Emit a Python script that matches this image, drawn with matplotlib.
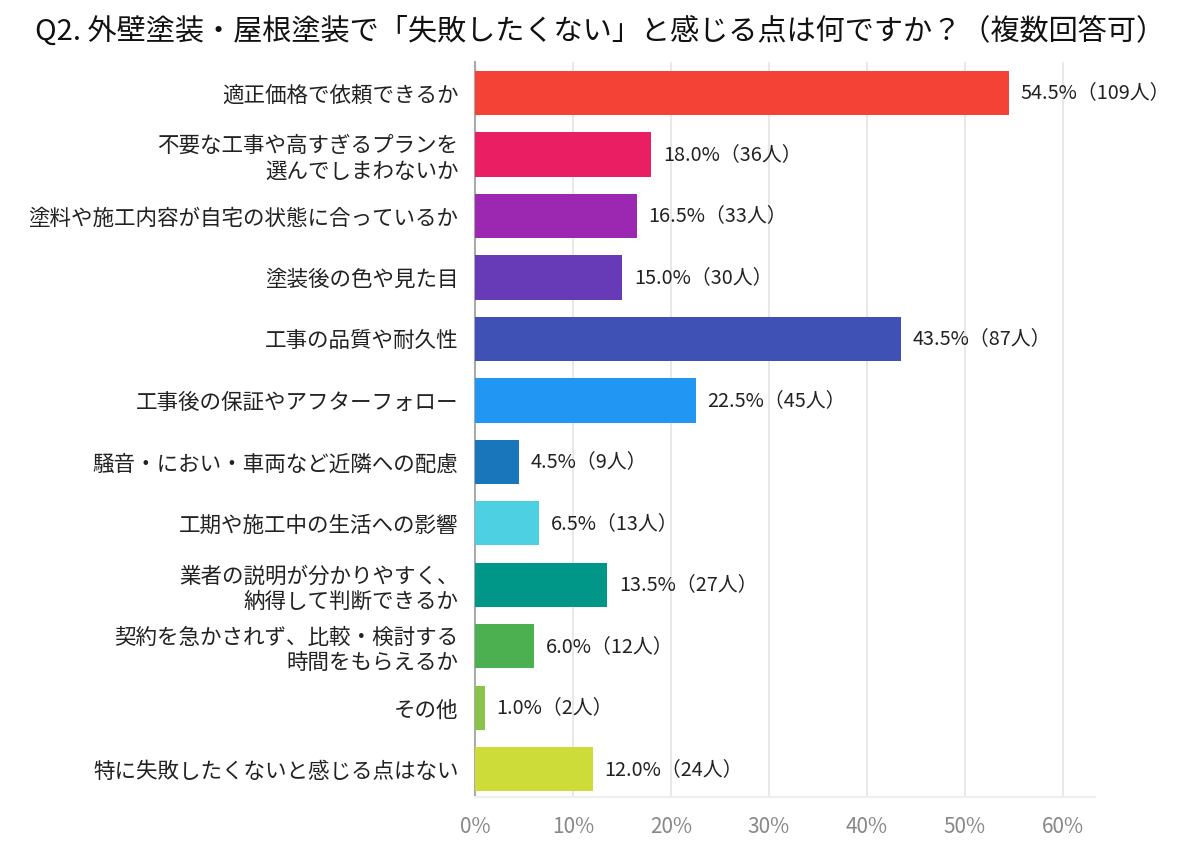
import matplotlib.pyplot as plt
import numpy as np

plt.rcParams['font.family'] = ['Noto Sans CJK JP', 'DejaVu Sans']

labels = [
    "適正価格で依頼できるか",
    "不要な工事や高すぎるプランを\n選んでしまわないか",
    "塗料や施工内容が自宅の状態に合っているか",
    "塗装後の色や見た目",
    "工事の品質や耐久性",
    "工事後の保証やアフターフォロー",
    "騒音・におい・車両など近隣への配慮",
    "工期や施工中の生活への影響",
    "業者の説明が分かりやすく、\n納得して判断できるか",
    "契約を急かされず、比較・検討する\n時間をもらえるか",
    "その他",
    "特に失敗したくないと感じる点はない",
]
pct = [54.5, 18.0, 16.5, 15.0, 43.5, 22.5, 4.5, 6.5, 13.5, 6.0, 1.0, 12.0]
people = [109, 36, 33, 30, 87, 45, 9, 13, 27, 12, 2, 24]
colors = ["#F44336", "#E91E63", "#9C27B0", "#673AB7", "#3F51B5", "#2196F3",
          "#1976BA", "#4DD0E1", "#009688", "#4CAF50", "#8BC34A", "#CDDC39"]
xticks = [0, 10, 20, 30, 40, 50, 60]

fig = plt.figure(figsize=(12, 8.52), dpi=100)
ax = fig.add_axes([0.396, 0.0646, 0.5165, 0.8624])

y = np.arange(len(labels))
ax.barh(y, pct, height=0.72, color=colors, zorder=3)
for yi, p, n in zip(y, pct, people):
    ax.text(p + 1.2, yi, f"{p:.1f}%（{n}人）", va="center", ha="left",
            fontsize=14.3, color="#222222", zorder=4)

ax.set_ylim(11.45, -0.5)
ax.set_xlim(0, 63.3)
ax.set_yticks(y)
ax.set_yticklabels(labels, fontsize=15.5, color="#222222", linespacing=1.2)
ax.set_xticks(xticks)
ax.set_xticklabels([f"{t}%" for t in xticks], fontsize=15, color="#888888")
ax.tick_params(axis="both", length=0)
ax.tick_params(axis="y", pad=12)
ax.tick_params(axis="x", pad=14)

ax.grid(axis="x", color="#e4e4e4", linewidth=1.2, zorder=0)
for s in ["top", "right"]:
    ax.spines[s].set_visible(False)
ax.spines["left"].set_color("#aaaaaa")
ax.spines["left"].set_linewidth(1.5)
ax.spines["bottom"].set_color("#eeeeee")
ax.spines["bottom"].set_linewidth(1.5)

fig.text(0.5, 0.963, "Q2. 外壁塗装・屋根塗装で「失敗したくない」と感じる点は何ですか？（複数回答可）",
         ha="center", va="center", fontsize=21, color="#111111")

fig.savefig("out.png", dpi=100)
